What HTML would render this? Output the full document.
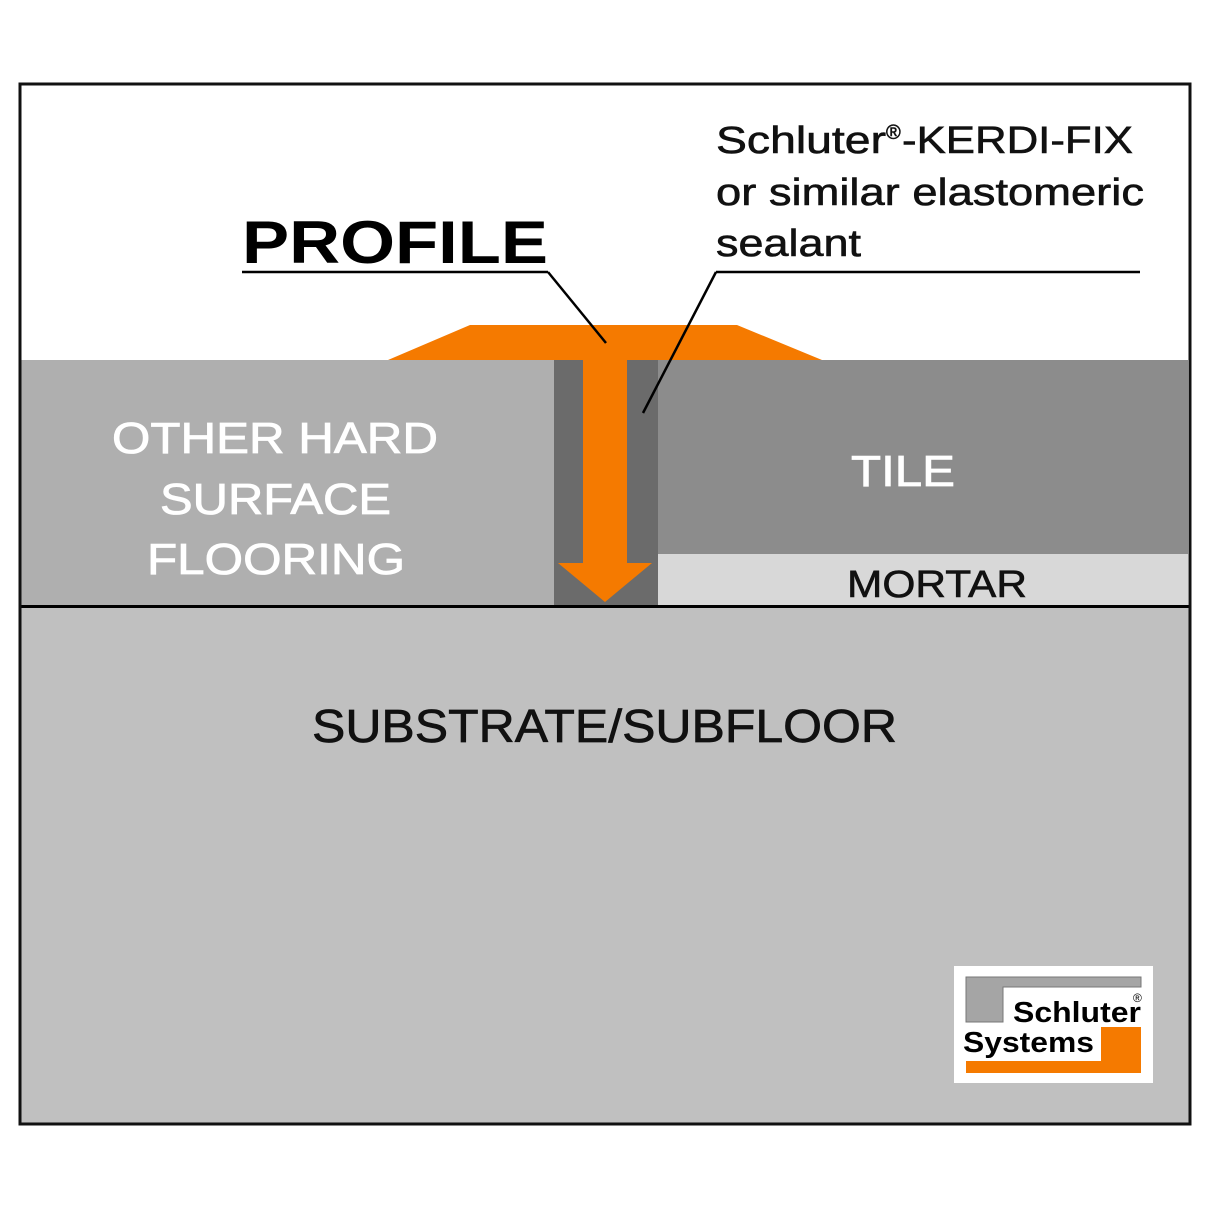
<!DOCTYPE html>
<html><head><style>
body{margin:0;background:#fff;}
svg{display:block}
text{font-family:"Liberation Sans",sans-serif;}
</style></head><body>
<svg width="1212" height="1212" viewBox="0 0 1212 1212">
<rect width="1212" height="1212" fill="#fff"/>
<rect x="20" y="360" width="534" height="246" fill="#afafaf"/>
<rect x="554" y="360" width="104" height="246" fill="#6b6b6b"/>
<rect x="658" y="360" width="530" height="194" fill="#8c8c8c"/>
<rect x="658" y="554" width="530" height="52" fill="#d8d8d8"/>
<rect x="20" y="607" width="1170" height="516" fill="#c0c0c0"/>
<line x1="20" y1="606.5" x2="1190" y2="606.5" stroke="#000" stroke-width="3"/>
<polygon points="470,325 737,325 822,360 627,360 627,563 652,563 605,602 558,563 583,563 583,360 388,360" fill="#f57a00"/>
<rect x="20" y="84" width="1170" height="1040" fill="none" stroke="#111" stroke-width="3"/>
<text x="242" y="263" font-size="60" font-weight="bold" fill="#000" textLength="306" lengthAdjust="spacingAndGlyphs">PROFILE</text>
<line x1="242" y1="272" x2="548" y2="272" stroke="#000" stroke-width="2.5"/>
<line x1="548" y1="272" x2="606" y2="343" stroke="#000" stroke-width="2.5"/>
<g font-size="38" fill="#111" stroke="#111" stroke-width="0.6">
<text x="716" y="153" textLength="170" lengthAdjust="spacingAndGlyphs">Schluter</text>
<text x="886" y="139" font-size="20">®</text>
<text x="902" y="153" textLength="231" lengthAdjust="spacingAndGlyphs">-KERDI-FIX</text>
<text x="716" y="205" textLength="428" lengthAdjust="spacingAndGlyphs">or similar elastomeric</text>
<text x="716" y="256" textLength="145" lengthAdjust="spacingAndGlyphs">sealant</text>
</g>
<line x1="716" y1="272" x2="1140" y2="272" stroke="#000" stroke-width="2.5"/>
<line x1="716" y1="272" x2="643" y2="413" stroke="#000" stroke-width="2.5"/>
<g font-size="44" fill="#fff" stroke="#fff" stroke-width="0.8">
<text x="112" y="453" textLength="326" lengthAdjust="spacingAndGlyphs">OTHER HARD</text>
<text x="160" y="514" textLength="231" lengthAdjust="spacingAndGlyphs">SURFACE</text>
<text x="147" y="574" textLength="258" lengthAdjust="spacingAndGlyphs">FLOORING</text>
<text x="851" y="486" textLength="104" lengthAdjust="spacingAndGlyphs">TILE</text>
</g>
<text x="847" y="597" font-size="38" fill="#111" stroke="#111" stroke-width="0.6" textLength="180" lengthAdjust="spacingAndGlyphs">MORTAR</text>
<text x="312" y="742" font-size="46" fill="#111" stroke="#111" stroke-width="0.7" textLength="585" lengthAdjust="spacingAndGlyphs">SUBSTRATE/SUBFLOOR</text>
<rect x="954" y="966" width="199" height="117" fill="#fff"/>
<polygon points="966,977 1141,977 1141,987 1003,987 1003,1022 966,1022" fill="#a5a5a5" stroke="#777" stroke-width="1"/>
<polygon points="1101,1027 1141,1027 1141,1073 966,1073 966,1061 1101,1061" fill="#f57a00"/>
<text x="1013" y="1022" font-size="29" font-weight="bold" fill="#000" textLength="128" lengthAdjust="spacingAndGlyphs">Schluter</text>
<text x="1133" y="1002" font-size="12" fill="#000">®</text>
<text x="963" y="1052" font-size="29" font-weight="bold" fill="#000" textLength="131" lengthAdjust="spacingAndGlyphs">Systems</text>
</svg>
</body></html>
